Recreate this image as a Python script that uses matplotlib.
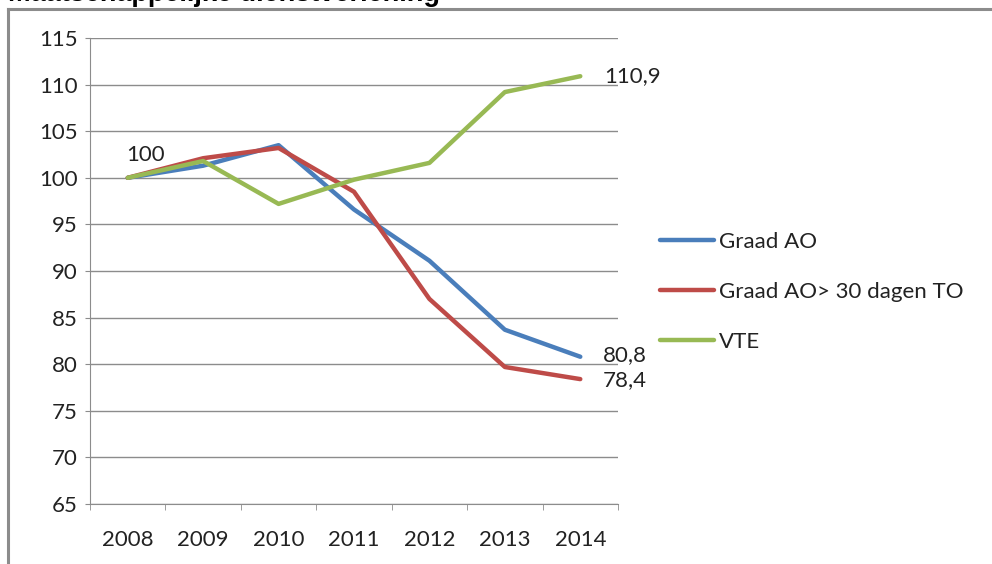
import matplotlib.pyplot as plt
from matplotlib.lines import Line2D

years = ["2008", "2009", "2010", "2011", "2012", "2013", "2014"]
graad_ao = [100, 101.3, 103.5, 96.6, 91.1, 83.7, 80.8]
graad_ao_30 = [100, 102.1, 103.2, 98.5, 87.0, 79.7, 78.4]
vte = [100, 101.8, 97.2, 99.8, 101.6, 109.2, 110.9]
series_names = ["Graad AO", "Graad AO> 30 dagen TO", "VTE"]
colors = ["#4A7EBB", "#BE4B48", "#98B954"]

plt.rcParams['font.family'] = ['Lato', 'DejaVu Sans']
fs = 16

fig = plt.figure(figsize=(9.92, 5.64), dpi=100)
ax = fig.add_axes([90/992, 60/564, 528/992, 466/564])

x = range(len(years))
for vals, name, c in zip([graad_ao, graad_ao_30, vte], series_names, colors):
    ax.plot(x, vals, color=c, lw=3.2, label=name, solid_capstyle='round', solid_joinstyle='round')

ax.set_xlim(-0.5, len(years) - 0.5)
ax.set_ylim(65, 115)
ax.set_yticks(range(65, 116, 5))
ax.yaxis.grid(True, color="#8c8c8c", lw=1)
ax.set_axisbelow(True)
ax.set_xticks(list(x))
ax.set_xticklabels(years)
ax.set_xticks([i - 0.5 for i in range(len(years) + 1)], minor=True)
ax.tick_params(axis='x', which='major', length=0, pad=19, labelsize=fs, colors='#222222')
ax.tick_params(axis='x', which='minor', length=4.3, color='#8c8c8c', direction='out')
ax.tick_params(axis='y', length=3.6, color='#8c8c8c', pad=5, labelsize=fs, labelcolor='#222222')
for s in ['top', 'right']:
    ax.spines[s].set_visible(False)
for s in ['left', 'bottom']:
    ax.spines[s].set_color('#8c8c8c')

# value labels
ax.annotate("100", (0, graad_ao[0]), xytext=(-1, 12), textcoords='offset points', fontsize=fs, color='#222222')
ax.annotate("110,9", (6, vte[-1]), xytext=(17, 0), textcoords='offset points', fontsize=fs, color='#222222', va='center')
ax.annotate("80,8", (6, graad_ao[-1]), xytext=(16, 1), textcoords='offset points', fontsize=fs, color='#222222', va='center')
ax.annotate("78,4", (6, graad_ao_30[-1]), xytext=(16, -1), textcoords='offset points', fontsize=fs, color='#222222', va='center')

leg = fig.legend(loc='upper left', bbox_to_anchor=(640/992, 1 - 212/564), frameon=False, fontsize=fs,
                 handlelength=2.45, handletextpad=0.2, labelspacing=1.35, labelcolor='#222222')

# outer frame and cut-off title
fig.add_artist(Line2D([8/992, 1], [1 - 9/564, 1 - 9/564], color='#8c8c8c', lw=2.2, transform=fig.transFigure))
fig.add_artist(Line2D([8/992, 8/992], [0, 1 - 9/564], color='#8c8c8c', lw=2.2, transform=fig.transFigure))
fig.text(8/992, 1 - 1/564, "Maatschappelijke dienstverlening", family='Liberation Sans', weight='bold',
         fontsize=19.5, va='baseline', ha='left')

fig.savefig("out.png", dpi=100)
